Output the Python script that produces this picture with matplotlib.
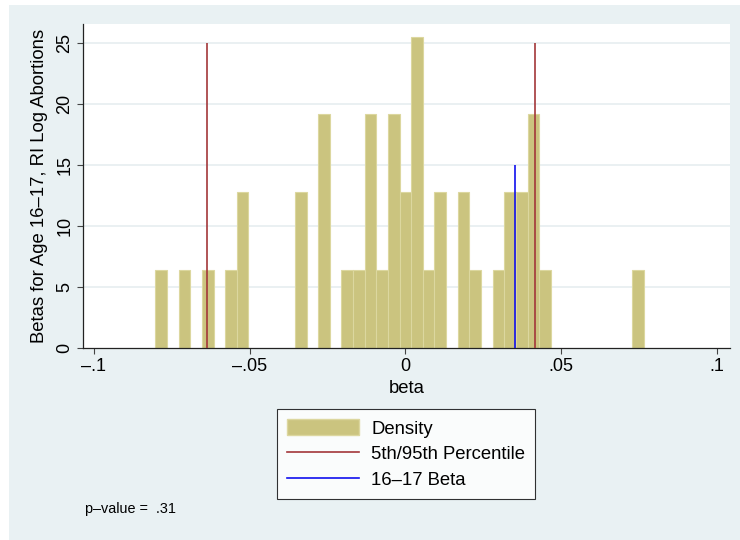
import numpy as np
import matplotlib.pyplot as plt
from matplotlib.patches import Patch, Rectangle
from matplotlib.lines import Line2D

plt.rcParams['font.family'] = ['Liberation Sans', 'DejaVu Sans']

# histogram of placebo betas: 42 bins starting at bin_start
bin_start = -0.0803
bin_width = 0.003734
bin_counts = [1, 0, 1, 0, 1, 0, 1, 2, 0, 0, 0, 0, 2, 0, 3, 0, 1, 1, 3, 1, 3,
              2, 4, 1, 2, 0, 2, 1, 0, 1, 2, 2, 3, 1, 0, 0, 0, 0, 0, 0, 0, 1]

pctl_values = [-0.0636, 0.0415]   # 5th / 95th percentile
pctl_height = 25
actual_beta = 0.0353              # 16-17 beta
beta_height = 15
p_value = ".31"

xticks = [-0.1, -0.05, 0, 0.05, 0.1]
xtick_labels = ["\u2013.1", "\u2013.05", "0", ".05", ".1"]
yticks = [0, 5, 10, 15, 20, 25]

bar_color = "#cbc47f"
bar_edge = "#dcd79f"
red = "#a3373a"
blue = "#1010ee"
bg = "#e9f1f3"
grid_color = "#e6eef0"

counts = np.array(bin_counts, dtype=float)
lefts = bin_start + bin_width * np.arange(len(counts))
density = counts / (counts.sum() * bin_width)

fig = plt.figure(figsize=(7.4, 5.4), dpi=100)
fig.patch.set_facecolor("white")
fig.patches.append(Rectangle((9 / 740, 0), 1, 1 - 5 / 540, transform=fig.transFigure,
                             facecolor=bg, edgecolor="none", zorder=-10))

ax = fig.add_axes([83 / 740, 1 - 348 / 540, (730 - 83) / 740, (348 - 24) / 540])
ax.set_facecolor("white")

nz = counts > 0
ax.bar(lefts[nz], density[nz], width=bin_width, align="edge",
       color=bar_color, edgecolor=bar_edge, linewidth=0.8, zorder=2)
ax.vlines(pctl_values, 0, pctl_height, color=red, linewidth=1.2, zorder=3)
ax.vlines(actual_beta, 0, beta_height, color=blue, linewidth=1.2, zorder=3)

ax.set_xlim(-0.10353, 0.1042)
ax.set_ylim(0, 26.53)
ax.set_xticks(xticks)
ax.set_xticklabels(xtick_labels, fontsize=13)
ax.set_yticks(yticks)
ax.set_yticklabels([str(v) for v in yticks], fontsize=13, rotation=90, va="center")
ax.tick_params(length=4.5, width=0.8, color="#444444", pad=2.5)

for v in yticks[1:]:
    ax.axhline(v, color=grid_color, linewidth=1.2, zorder=1)

for side in ("top", "right"):
    ax.spines[side].set_visible(False)
for side in ("left", "bottom"):
    ax.spines[side].set_color("#222222")
    ax.spines[side].set_linewidth(0.9)

ax.set_xlabel("beta", fontsize=13.3, labelpad=3.5)
ax.set_ylabel("Betas for Age 16\u201317, RI Log Abortions", fontsize=13.3, labelpad=6)

handles = [Patch(facecolor=bar_color, edgecolor=bar_edge),
           Line2D([], [], color=red, linewidth=1.2),
           Line2D([], [], color=blue, linewidth=1.2)]
labels = ["Density", "5th/95th Percentile", "16\u201317 Beta"]
leg = fig.legend(handles, labels, loc="upper center", bbox_to_anchor=(406 / 740, 1 - 409.3 / 540),
                 borderaxespad=0, fontsize=13.3, frameon=True, fancybox=False,
                 handlelength=3.9, handleheight=0.95, labelspacing=0.39,
                 borderpad=0.55, handletextpad=0.65)
leg.get_frame().set_edgecolor("black")
leg.get_frame().set_linewidth(0.8)
leg.get_frame().set_facecolor("white")

fig.text(85 / 740, 1 - 509 / 540, f"p\u2013value =  {p_value}", fontsize=10.4, va="center")

fig.savefig("out.png", dpi=100, facecolor=fig.get_facecolor())
